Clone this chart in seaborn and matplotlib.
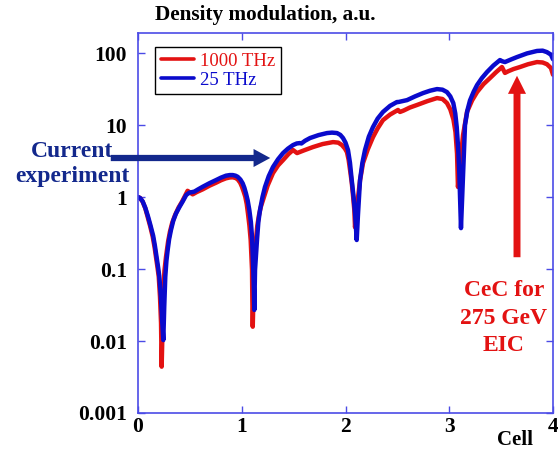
import matplotlib
matplotlib.use("Agg")
import matplotlib.pyplot as plt
import seaborn as sns
import pandas as pd
from matplotlib.patches import FancyArrowPatch
from matplotlib.lines import Line2D
from matplotlib.ticker import FixedLocator, FixedFormatter, NullLocator

# ---- data (cell, density modulation) ----
cell_1000 = [0.000, 0.020, 0.045, 0.070, 0.093, 0.118, 0.142, 0.160, 0.173, 0.188,
             0.200, 0.212, 0.222, 0.228, 0.234, 0.241, 0.255, 0.270, 0.290, 0.308,
             0.330, 0.357, 0.390, 0.424, 0.455, 0.478, 0.527, 0.565, 0.624, 0.690,
             0.752, 0.800, 0.848, 0.885, 0.913, 0.940, 0.961, 0.985, 1.002, 1.020,
             1.034, 1.048, 1.060, 1.074, 1.086, 1.099, 1.102, 1.106, 1.112, 1.120,
             1.137, 1.150, 1.166, 1.185, 1.205, 1.250, 1.301, 1.350, 1.398, 1.450,
             1.494, 1.533, 1.600, 1.687, 1.780, 1.880, 1.930, 1.966, 1.995, 2.014,
             2.030, 2.044, 2.060, 2.072, 2.085, 2.092, 2.105, 2.118, 2.140, 2.169,
             2.215, 2.265, 2.310, 2.361, 2.430, 2.506, 2.525, 2.560, 2.620, 2.689,
             2.790, 2.882, 2.935, 2.978, 3.010, 3.040, 3.060, 3.075, 3.084, 3.104,
             3.133, 3.171, 3.220, 3.268, 3.330, 3.393, 3.450, 3.508, 3.537, 3.570,
             3.620, 3.682, 3.760, 3.846, 3.900, 3.942, 3.980, 4.000]
mod_1000 = [1.00, 0.97, 0.86, 0.70, 0.53, 0.39, 0.28, 0.20, 0.148, 0.105,
            0.078, 0.041, 0.0178, 0.0044, 0.0103, 0.041, 0.095, 0.148, 0.24, 0.33,
            0.44, 0.56, 0.71, 0.86, 1.05, 1.22, 1.09, 1.17, 1.28, 1.44,
            1.58, 1.71, 1.82, 1.87, 1.88, 1.84, 1.76, 1.58, 1.39, 1.17,
            1.01, 0.80, 0.59, 0.40, 0.253, 0.097, 0.037, 0.0158, 0.037, 0.097,
            0.253, 0.40, 0.56, 0.74, 0.91, 1.45, 2.15, 2.75, 3.26, 3.95,
            4.50, 4.08, 4.45, 4.95, 5.45, 5.80, 5.70, 5.27, 4.70, 4.20,
            3.30, 2.37, 1.60, 1.07, 0.66, 0.38, 0.65, 0.91, 1.70, 2.97,
            4.60, 6.80, 9.00, 11.7, 14.0, 16.2, 15.2, 15.9, 17.5, 19.0,
            21.5, 23.7, 23.0, 20.2, 16.5, 12.0, 8.0, 4.0, 1.38, 2.78,
            7.26, 15.2, 22.0, 28.7, 37.0, 45.0, 54.0, 64.0, 53.0, 56.0,
            60.0, 64.0, 70.0, 75.0, 74.0, 70.0, 62.0, 50.0]

cell_25 = [0.000, 0.020, 0.045, 0.070, 0.096, 0.121, 0.146, 0.163, 0.178, 0.192,
           0.205, 0.220, 0.232, 0.244, 0.253, 0.263, 0.274, 0.286, 0.300, 0.318,
           0.340, 0.366, 0.400, 0.431, 0.465, 0.495, 0.520, 0.543, 0.580, 0.624,
           0.690, 0.752, 0.800, 0.848, 0.885, 0.913, 0.940, 0.961, 0.987, 1.009,
           1.025, 1.041, 1.057, 1.073, 1.088, 1.099, 1.111, 1.117, 1.121, 1.128,
           1.147, 1.160, 1.176, 1.200, 1.224, 1.260, 1.301, 1.350, 1.398, 1.445,
           1.494, 1.530, 1.561, 1.575, 1.610, 1.658, 1.740, 1.822, 1.870, 1.918,
           1.950, 1.976, 2.000, 2.024, 2.043, 2.060, 2.078, 2.092, 2.108, 2.120,
           2.140, 2.163, 2.188, 2.225, 2.265, 2.310, 2.361, 2.430, 2.496, 2.510,
           2.593, 2.670, 2.747, 2.815, 2.882, 2.935, 2.978, 3.010, 3.039, 3.058,
           3.072, 3.087, 3.097, 3.113, 3.133, 3.152, 3.175, 3.200, 3.235, 3.268,
           3.315, 3.364, 3.425, 3.489, 3.510, 3.537, 3.600, 3.653, 3.750, 3.846,
           3.900, 3.942, 3.980, 4.000]
mod_25 = [1.00, 0.97, 0.87, 0.71, 0.54, 0.40, 0.29, 0.21, 0.150, 0.11,
          0.080, 0.042, 0.020, 0.0103, 0.030, 0.078, 0.13, 0.184, 0.26, 0.35,
          0.47, 0.59, 0.73, 0.87, 1.07, 1.15, 1.17, 1.19, 1.28, 1.39,
          1.56, 1.72, 1.86, 1.98, 2.02, 2.02, 1.98, 1.91, 1.75, 1.55,
          1.35, 1.12, 0.90, 0.66, 0.45, 0.28, 0.097, 0.051, 0.027, 0.097,
          0.253, 0.45, 0.66, 1.00, 1.38, 1.95, 2.61, 3.35, 4.08, 4.70,
          5.27, 5.55, 5.62, 5.55, 6.05, 6.60, 7.25, 7.74, 7.85, 7.74,
          7.30, 6.60, 5.70, 4.50, 3.00, 1.72, 1.00, 0.60, 0.253, 0.56,
          1.72, 3.00, 4.50, 6.90, 9.38, 12.3, 15.2, 18.5, 20.9, 20.9,
          22.2, 25.0, 27.8, 30.0, 31.6, 31.0, 28.7, 25.0, 20.2, 14.5,
          9.4, 4.5, 2.15, 0.37, 2.02, 10.0, 16.0, 22.0, 29.0, 35.9,
          45.0, 54.5, 67.0, 80.0, 77.0, 75.0, 82.0, 88.0, 99.0, 107.0,
          108.0, 103.0, 95.0, 82.0]

series_names = ["1000 THz", "25 THz"]
x_ticks = [0, 1, 2, 3, 4]
y_ticks = [0.001, 0.01, 0.1, 1, 10, 100]
y_tick_labels = ["0.001", "0.01", "0.1", "1", "10", "100"]

RED = "#e31212"
BLUE = "#0a0acc"
NAVY = "#13288c"
FRAME = "#4b4be6"

sns.set_style("ticks")
plt.rcParams['font.family'] = ['Liberation Serif', 'DejaVu Serif']

df = pd.DataFrame({
    "cell": cell_1000 + cell_25,
    "mod": mod_1000 + mod_25,
    "series": [series_names[0]] * len(cell_1000) + [series_names[1]] * len(cell_25),
})

fig = plt.figure(figsize=(5.58, 4.49), dpi=100)
ax = fig.add_axes([138 / 558, 36 / 449, 415 / 558, 380 / 449])

sns.lineplot(data=df, x="cell", y="mod", hue="series", hue_order=series_names,
             palette=[RED, BLUE], estimator=None, sort=False, linewidth=3.2,
             legend=False, ax=ax)
for ln in ax.get_lines():
    ln.set_solid_joinstyle("round")

ax.set_yscale("log")
ax.set_xlim(0, 4)
ax.set_ylim(0.001, 190)
ax.xaxis.set_major_locator(FixedLocator(x_ticks))
ax.yaxis.set_major_locator(FixedLocator(y_ticks))
ax.yaxis.set_major_formatter(FixedFormatter(y_tick_labels))
ax.yaxis.set_minor_locator(NullLocator())
ax.set_xlabel("")
ax.set_ylabel("")

for sp in ax.spines.values():
    sp.set_color(FRAME)
    sp.set_linewidth(1.2)
ax.tick_params(axis="both", which="both", direction="in", length=5, width=1,
               color=FRAME, top=True, right=True, labelsize=15.5, labelcolor="black")
ax.tick_params(axis="x", pad=3)
ax.tick_params(axis="y", pad=8)
for lab in ax.get_xticklabels() + ax.get_yticklabels():
    lab.set_fontweight("bold")

handles = [Line2D([], [], color=RED, lw=2.6), Line2D([], [], color=BLUE, lw=2.6)]
leg = ax.legend(handles, series_names, loc="upper left",
                bbox_to_anchor=(0.041, 0.963), borderaxespad=0, fontsize=13.5,
                labelcolor=[RED, BLUE], frameon=True, fancybox=False,
                edgecolor="black", framealpha=1, handlelength=1.8,
                handletextpad=0.3, labelspacing=0.1, borderpad=0.3)
leg.get_frame().set_linewidth(1.0)

fig.text(265 / 558, 1 - 15 / 449, "Density modulation, a.u.", ha="center",
         va="center", fontsize=15.3, fontweight="bold", color="black")
fig.text(515 / 558, 1 - 445 / 449, "Cell", ha="center", va="baseline",
         fontsize=15, fontweight="bold", color="black")
fig.text(72 / 558, 1 - 164 / 449, "Current\nexperiment", ha="center",
         va="center", fontsize=17, fontweight="bold", color=NAVY,
         linespacing=1.3)
fig.text(504 / 558, 1 - 318 / 449, "CeC for\n275 GeV\nEIC", ha="center",
         va="center", fontsize=17, fontweight="bold", color=RED,
         linespacing=1.38)

arr1 = FancyArrowPatch((108 / 558, 1 - 158 / 449), (273 / 558, 1 - 158 / 449),
                       transform=fig.transFigure,
                       arrowstyle="simple,head_length=1.2,head_width=1.3,tail_width=0.45",
                       mutation_scale=10, color=NAVY, lw=0)
arr2 = FancyArrowPatch((517 / 558, 1 - 260 / 449), (517 / 558, 1 - 73 / 449),
                       transform=fig.transFigure,
                       arrowstyle="simple,head_length=1.3,head_width=1.3,tail_width=0.5",
                       mutation_scale=10, color=RED, lw=0)
fig.add_artist(arr1)
fig.add_artist(arr2)

fig.savefig("out.png", dpi=100)
